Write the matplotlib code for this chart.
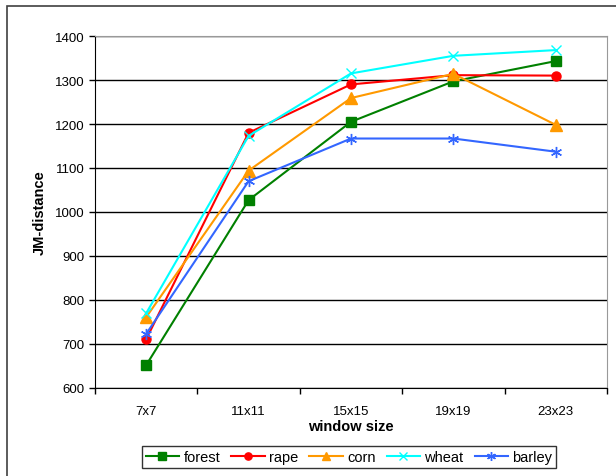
import matplotlib.pyplot as plt
from matplotlib.patches import Rectangle

plt.rcParams['font.family'] = ['Liberation Sans', 'DejaVu Sans']

# data
window_sizes = ["7x7", "11x11", "15x15", "19x19", "23x23"]
forest = [652, 1027, 1205, 1297, 1343]
rape = [711, 1180, 1290, 1311, 1310]
corn = [761, 1094, 1259, 1314, 1198]
wheat = [770, 1173, 1315, 1355, 1368]
barley = [723, 1070, 1167, 1167, 1137]

fig = plt.figure(figsize=(6.16, 4.77), dpi=100)
fig.patch.set_facecolor('white')

# outer chart border (only left/top visible in reference)
fig.add_artist(Rectangle((7 / 616, -0.05), 1.2, 1 - 7 / 477 + 0.05,
                         transform=fig.transFigure, fill=False,
                         edgecolor='#404040', linewidth=1.2))

ax = fig.add_axes([95 / 616, 88 / 477, 512 / 616, 352 / 477])

xs = range(len(window_sizes))
series = [
    ("forest", forest, '#008000', dict(marker='s', markersize=7)),
    ("rape", rape, '#FF0000', dict(marker='o', markersize=6.5)),
    ("corn", corn, '#FF9900', dict(marker='^', markersize=8)),
    ("wheat", wheat, '#00FFFF', dict(marker='x', markersize=7, markeredgewidth=1)),
    ("barley", barley, '#3366FF', dict(marker=(6, 2, 0), markersize=8, markeredgewidth=1)),
]
for name, vals, col, mk in series:
    ax.plot(xs, vals, color=col, linewidth=1.5, label=name,
            markerfacecolor=col, markeredgecolor=col, **mk)

ax.set_xlim(-0.5, len(window_sizes) - 0.5)
ax.set_ylim(600, 1400)
ax.set_yticks(range(600, 1401, 100))
ax.set_xticks(list(xs))
ax.set_xticklabels(window_sizes)
ax.set_xticks([i - 0.5 for i in range(len(window_sizes) + 1)], minor=True)
ax.tick_params(axis='x', which='major', length=0, pad=12, labelsize=9.5)
ax.tick_params(axis='x', which='minor', length=4, direction='out', width=1)
ax.tick_params(axis='y', length=4, direction='out', width=1, labelsize=9.5)

ax.yaxis.grid(True, color='black', linewidth=1)
ax.set_axisbelow(True)
for side in ['top', 'right']:
    ax.spines[side].set_color('#999999')
for side in ['left', 'bottom']:
    ax.spines[side].set_color('black')

ax.set_xlabel("window size", fontsize=10.5, fontweight='bold', labelpad=2)
ax.set_ylabel("JM-distance", fontsize=10.5, fontweight='bold', labelpad=6)

leg = fig.legend(loc='center', bbox_to_anchor=(349 / 616, 1 - 458 / 477),
                 ncol=5, fontsize=10.5, frameon=True, fancybox=False,
                 edgecolor='black', handlelength=2.3, handletextpad=0.3,
                 columnspacing=0.75, borderpad=0.25, markerscale=0.8)
leg.get_frame().set_linewidth(1)

fig.savefig("out.png", dpi=100)
